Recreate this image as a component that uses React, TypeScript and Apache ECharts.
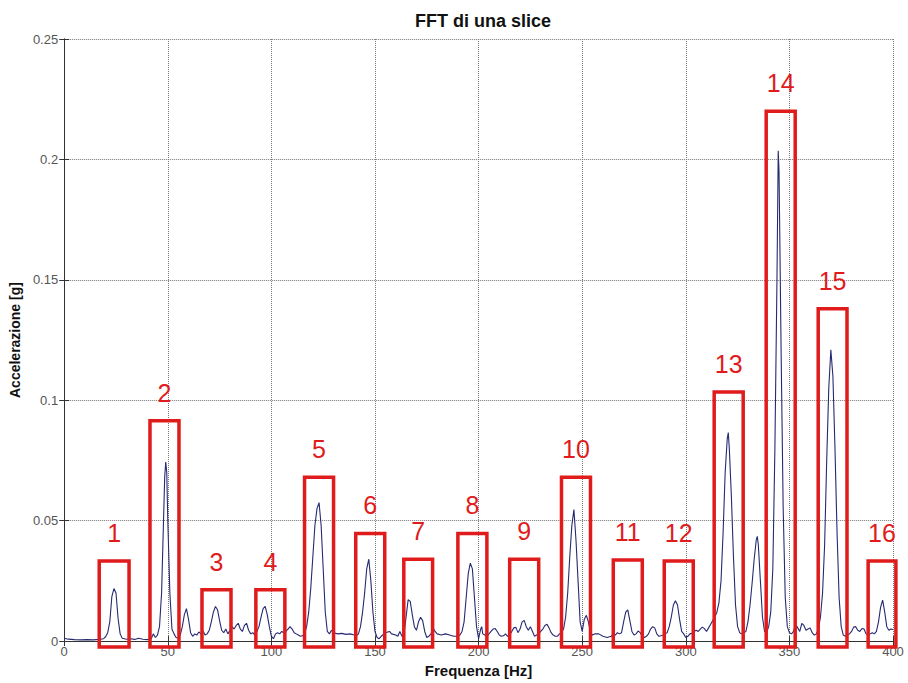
import React, { useEffect, useRef } from "react";
import * as echarts from "echarts";

// Spectrum samples: frequency [Hz] and acceleration amplitude [g]
const freq: number[] = [
  0, 2, 5, 8, 11, 14, 17, 19, 20, 21, 22, 23, 24, 25, 26, 27, 28, 30, 32, 34, 36, 38, 40, 42, 43, 44, 45, 46, 47, 48, 48.5, 49, 49.5, 50,
  51, 52, 53, 54, 55, 56, 57, 58, 59, 60, 61, 62, 63, 64, 65, 66, 67, 68, 69, 70, 71, 72, 73, 74, 75, 76, 77, 78, 79, 80,
  81, 82, 83, 84, 85, 86, 87, 88, 89, 90, 91, 92, 93, 94, 95, 96, 97, 98, 99, 100,
  101, 102, 103, 104, 105, 106, 107, 108, 109, 110, 111, 112, 113, 114, 115, 116, 117, 118, 119, 120,
  121, 122, 123, 124, 125, 126, 127, 128, 129, 130, 132, 134, 136, 138, 140,
  141, 142, 143, 144, 145, 146, 147, 148, 149, 150, 151, 152, 153, 155, 157, 158, 160,
  161, 162, 163, 164, 165, 166, 167, 168, 169, 170, 171, 172, 173, 174, 175, 176, 177, 178, 179, 180,
  182, 184, 186, 188, 190, 191, 192, 193, 194, 195, 196, 197, 198, 199, 200,
  201, 201.5, 202, 203, 204, 205, 206, 207, 208, 209, 210, 211, 212, 213, 214, 215, 216, 217, 218, 219, 220,
  221, 222, 223, 224, 225, 226, 227, 228, 229, 230, 231, 232, 233, 234, 235, 236, 237, 238, 239, 240,
  241, 242, 243, 244, 245, 246, 247, 248, 249, 250, 251, 252, 253, 254, 255, 256, 258, 260,
  262, 264, 265, 266, 267, 268, 269, 270, 271, 272, 273, 274, 275, 276, 277, 278, 279, 280,
  281, 282, 283, 284, 285, 286, 287, 288, 289, 290, 291, 292, 293, 294, 295, 296, 297, 298, 299, 300,
  301, 302, 303, 304, 305, 306, 307, 308, 309, 310, 311, 312, 313, 314, 315, 316, 317, 318, 319, 320,
  320.5, 321, 322, 323, 324, 325, 326, 327, 328, 329, 330, 331, 332, 333, 334, 334.5, 335, 336, 337, 338, 339, 340,
  341, 342, 343, 344, 344.6, 345, 346, 347, 348, 349, 350, 351, 352, 353, 354, 355, 356, 357, 358, 359, 360,
  361, 362, 363, 364, 365, 366, 367, 368, 369, 370, 371, 372, 373, 374, 375, 376, 377, 378, 379, 380,
  381, 382, 383, 384, 385, 386, 387, 388, 389, 390, 391, 392, 393, 394, 395, 396, 397, 398, 399, 400,
];

const accel: number[] = [
  0.0012, 0.0008, 0.0006, 0.0005, 0.0006, 0.0005, 0.0007, 0.001, 0.0018, 0.0035, 0.008, 0.0185, 0.0218, 0.02, 0.0095, 0.003, 0.0012, 0.0008, 0.001, 0.0007, 0.0012, 0.0008, 0.0006, 0.001, 0.003, 0.0015, 0.0025, 0.006, 0.02, 0.052, 0.068, 0.0743, 0.07, 0.05,
  0.02, 0.005, 0.003, 0.0015, 0.0012, 0.0025, 0.006, 0.011, 0.0135, 0.009, 0.0035, 0.002, 0.003, 0.0025, 0.0038, 0.003, 0.0042, 0.0025, 0.003, 0.0045, 0.008, 0.012, 0.0144, 0.013, 0.0085, 0.0045, 0.0035, 0.005, 0.003, 0.0045,
  0.006, 0.005, 0.0065, 0.0074, 0.005, 0.004, 0.0065, 0.0074, 0.0045, 0.003, 0.0035, 0.0025, 0.004, 0.006, 0.01, 0.0135, 0.0144, 0.011, 0.006, 0.002,
  0.001, 0.003, 0.0035, 0.003, 0.004, 0.0035, 0.004, 0.005, 0.006, 0.005, 0.0035, 0.003, 0.0025, 0.002, 0.0022, 0.003, 0.006, 0.012, 0.022, 0.035,
  0.048, 0.055, 0.0575, 0.048, 0.03, 0.012, 0.004, 0.003, 0.0045, 0.0035, 0.003, 0.0032, 0.0028, 0.003, 0.0025,
  0.0022, 0.003, 0.006, 0.012, 0.02, 0.03, 0.034, 0.025, 0.012, 0.004, 0.0015, 0.001, 0.002, 0.0035, 0.004, 0.003, 0.0025,
  0.002, 0.004, 0.002, 0.003, 0.01, 0.0172, 0.0165, 0.011, 0.006, 0.0045, 0.008, 0.0099, 0.0085, 0.004, 0.0015, 0.002, 0.003, 0.0055, 0.004, 0.003,
  0.0025, 0.003, 0.0025, 0.002, 0.002, 0.0025, 0.004, 0.008, 0.018, 0.028, 0.0324, 0.03, 0.018, 0.006, 0.001,
  0.005, 0.006, 0.003, 0.0025, 0.002, 0.003, 0.004, 0.005, 0.0052, 0.004, 0.0025, 0.002, 0.0022, 0.003, 0.002, 0.0025, 0.004, 0.0055, 0.0057, 0.0035, 0.005,
  0.008, 0.0086, 0.006, 0.0045, 0.006, 0.004, 0.002, 0.0025, 0.003, 0.004, 0.005, 0.0065, 0.007, 0.0055, 0.0035, 0.0025, 0.002, 0.002, 0.003, 0.0035,
  0.005, 0.01, 0.02, 0.035, 0.048, 0.0546, 0.042, 0.025, 0.008, 0.004, 0.009, 0.0107, 0.008, 0.0035, 0.0025, 0.003, 0.003, 0.002,
  0.0015, 0.002, 0.003, 0.0025, 0.0035, 0.003, 0.0035, 0.008, 0.012, 0.013, 0.0085, 0.004, 0.0025, 0.003, 0.0042, 0.0035, 0.002, 0.0015,
  0.002, 0.003, 0.005, 0.006, 0.0055, 0.003, 0.002, 0.0022, 0.0025, 0.003, 0.0035, 0.006, 0.01, 0.015, 0.0168, 0.015, 0.009, 0.004, 0.003, 0.0015,
  0.002, 0.003, 0.0032, 0.004, 0.0045, 0.004, 0.005, 0.0058, 0.0052, 0.004, 0.0055, 0.007, 0.0085, 0.01, 0.012, 0.016, 0.025, 0.045, 0.07, 0.084,
  0.0866, 0.08, 0.06, 0.035, 0.015, 0.006, 0.0035, 0.003, 0.0035, 0.004, 0.008, 0.015, 0.024, 0.034, 0.042, 0.0435, 0.04, 0.025, 0.01, 0.004, 0.0035, 0.006,
  0.012, 0.03, 0.08, 0.15, 0.2036, 0.195, 0.12, 0.055, 0.018, 0.006, 0.0035, 0.003, 0.004, 0.007, 0.0055, 0.004, 0.0074, 0.0065, 0.0045, 0.005, 0.0055,
  0.0035, 0.0025, 0.003, 0.005, 0.01, 0.02, 0.04, 0.075, 0.105, 0.121, 0.11, 0.08, 0.045, 0.018, 0.006, 0.0025, 0.002, 0.0025, 0.003, 0.004,
  0.0058, 0.006, 0.0045, 0.004, 0.0052, 0.005, 0.003, 0.0025, 0.003, 0.0035, 0.003, 0.004, 0.008, 0.014, 0.017, 0.012, 0.006, 0.0045, 0.005, 0.0048,
];

// Highlighted peak windows: frequency span and upper edge (boxes run slightly below zero)
const boxLabels: string[] = ["1", "2", "3", "4", "5", "6", "7", "8", "9", "10", "11", "12", "13", "14", "15", "16"];
const boxStart: number[] = [16.9, 41.4, 66.5, 92.5, 116, 140.7, 163.9, 190, 215, 240, 265, 289.6, 313.7, 338.8, 363.9, 388];
const boxEnd: number[] = [31.3, 55.4, 80.5, 106.5, 130, 154.7, 177.8, 204, 229, 254, 279, 303.6, 327.7, 352.8, 377.8, 401.4];
const boxTop: number[] = [0.0333, 0.0915, 0.0213, 0.0213, 0.068, 0.0447, 0.034, 0.0447, 0.034, 0.068, 0.0337, 0.0333, 0.1034, 0.22, 0.138, 0.0333];
const boxBottom = -0.0025;

const yTicks: string[] = ["0", "0.05", "0.1", "0.15", "0.2", "0.25"];
const xTicks: string[] = ["0", "50", "100", "150", "200", "250", "300", "350", "400"];

const FONT = "Liberation Sans, Arial, Helvetica, sans-serif";

export default function App() {
  const ref = useRef<HTMLDivElement>(null);

  useEffect(() => {
    if (!ref.current) return;
    const chart = echarts.init(ref.current, undefined, { renderer: "svg" });

    const spectrum = freq.map((f, i) => [f, accel[i]]);
    const boxes = boxStart.map((s, i) => [s, boxEnd[i], boxTop[i], i]);

    const axisLine = { show: true, lineStyle: { color: "#333", width: 1 } };
    const tick = { show: true, inside: true, length: 5, lineStyle: { color: "#333" } };
    const grid = { show: true, lineStyle: { type: "dotted" as const, color: "#777", width: 1 } };

    chart.setOption({
      animation: false,
      backgroundColor: "#fff",
      title: {
        text: "FFT di una slice",
        left: 478,
        top: 7,
        textAlign: "center",
        textStyle: { fontFamily: FONT, fontSize: 18, fontWeight: "bold", color: "#111" },
      },
      grid: { left: 63, top: 39, width: 830, height: 609 },
      xAxis: [
        {
          type: "value",
          min: 0,
          max: 400,
          interval: 50,
          position: "bottom",
          axisLine,
          axisTick: tick,
          splitLine: grid,
          axisLabel: {
            margin: 4,
            color: "#555",
            fontFamily: FONT,
            fontSize: 13,
            formatter: (v: number) => xTicks[Math.round(v / 50)] ?? "",
          },
          name: "Frequenza [Hz]",
          nameLocation: "middle",
          nameGap: 20,
          nameTextStyle: { fontFamily: FONT, fontSize: 15, fontWeight: "bold", color: "#111" },
        },
        {
          type: "value",
          min: 0,
          max: 400,
          interval: 50,
          position: "top",
          axisLine,
          axisTick: tick,
          axisLabel: { show: false },
          splitLine: { show: false },
        },
      ],
      yAxis: [
        {
          type: "value",
          min: 0,
          max: 0.25,
          interval: 0.05,
          position: "left",
          axisLine,
          axisTick: tick,
          splitLine: grid,
          axisLabel: {
            margin: 6,
            color: "#555",
            fontFamily: FONT,
            fontSize: 13,
            formatter: (v: number) => yTicks[Math.round(v / 0.05)] ?? "",
          },
          name: "Accelerazione [g]",
          nameLocation: "middle",
          nameGap: 34,
          nameTextStyle: { fontFamily: FONT, fontSize: 14, fontWeight: "bold", color: "#111" },
        },
        {
          type: "value",
          min: 0,
          max: 0.25,
          interval: 0.05,
          position: "right",
          axisLine,
          axisTick: tick,
          axisLabel: { show: false },
          splitLine: { show: false },
        },
      ],
      series: [
        {
          type: "line",
          data: spectrum,
          showSymbol: false,
          symbol: "none",
          lineStyle: { color: "#262a70", width: 1.1 },
          z: 2,
        },
        {
          type: "custom",
          data: boxes,
          clip: false,
          z: 5,
          renderItem: (params: any, api: any) => {
            const s = api.value(0);
            const e = api.value(1);
            const t = api.value(2);
            const idx = api.value(3);
            const p0 = api.coord([s, t]);
            const p1 = api.coord([e, boxBottom]);
            return {
              type: "group",
              children: [
                {
                  type: "rect",
                  shape: { x: p0[0], y: p0[1], width: p1[0] - p0[0], height: p1[1] - p0[1] },
                  style: { fill: "none", stroke: "#e01b1b", lineWidth: 3.5 },
                },
                {
                  type: "text",
                  style: {
                    text: boxLabels[idx],
                    x: (p0[0] + p1[0]) / 2,
                    y: p0[1] - 28,
                    align: "center",
                    verticalAlign: "middle",
                    textAlign: "center",
                    textVerticalAlign: "middle",
                    fill: "#e01b1b",
                    font: `25px ${FONT}`,
                  },
                },
              ],
            };
          },
        },
      ],
    });

    return () => chart.dispose();
  }, []);

  return (
    <div
      ref={ref}
      style={{ position: "fixed", left: 0, top: 0, width: 908, height: 683, background: "#fff" }}
    />
  );
}
